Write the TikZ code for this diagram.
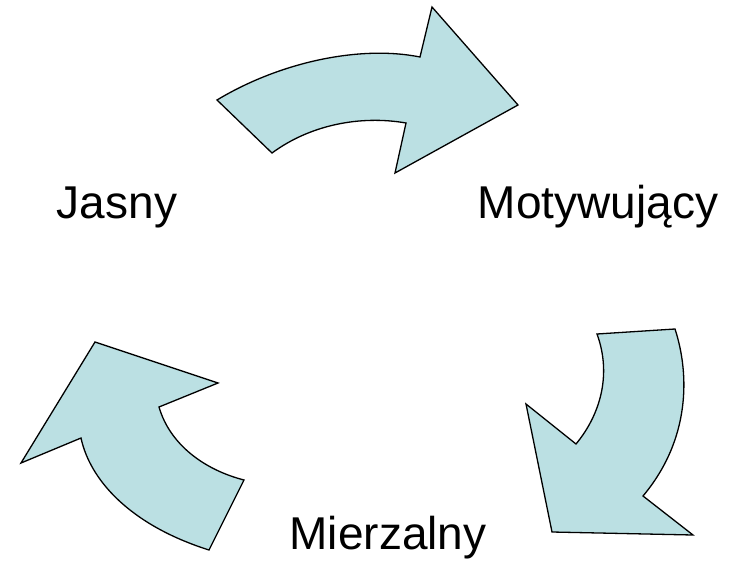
\documentclass[tikz,border=0pt]{standalone}
\usepackage{fontspec}
\setmainfont{Liberation Sans}
\begin{document}
\begin{tikzpicture}[x=1pt,y=-1pt,
  arrowshape/.style={draw=black,line width=1.3pt,fill=arrowfill,line join=miter},
  lbl/.style={font=\fontsize{46}{50}\selectfont,anchor=base,inner sep=0pt}]
\definecolor{arrowfill}{HTML}{BBE0E3}
\useasboundingbox (0,0) rectangle (741,562);
% top arrow
\draw[arrowshape] (217,100) .. controls (280,62) and (360,45) .. (420,57)
  -- (432,7) -- (518,105) -- (395,173) -- (406,123)
  .. controls (360,115) and (310,125) .. (272,153) -- cycle;
% right arrow
\draw[arrowshape] (597,334) -- (675,329)
  .. controls (690,375) and (690,440) .. (643,496)
  -- (693,535) -- (552,532) -- (526,404) -- (576,444)
  .. controls (600,415) and (612,375) .. (597,334) -- cycle;
% left arrow
\draw[arrowshape] (95,342) -- (218,383) -- (159,407)
  .. controls (170,445) and (205,470) .. (244,480)
  -- (209,550)
  .. controls (130,525) and (90,480) .. (81,438)
  -- (21,463) -- cycle;
\node[lbl] (jasny) at (117,218) {Jasny};
\node[lbl] (motyw) at (598,218) {Motywujący};
\node[lbl] (mierz) at (388,549) {Mierzalny};
\end{tikzpicture}
\end{document}
